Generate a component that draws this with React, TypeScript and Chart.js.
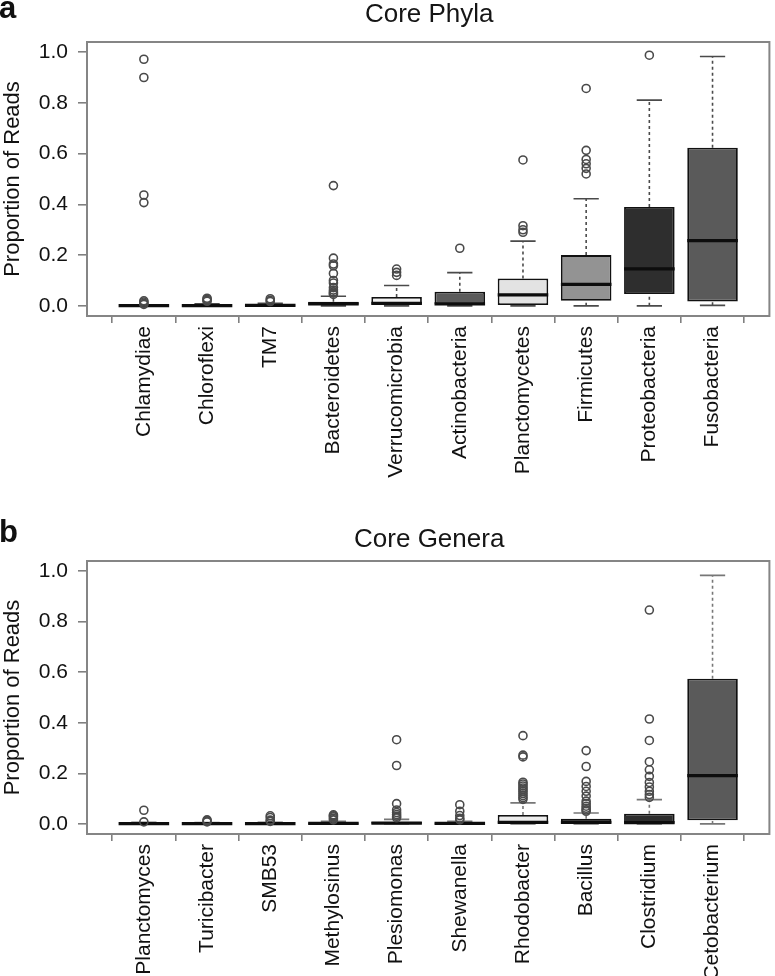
import React, { useEffect, useRef } from "react";
import { Chart, registerables } from "chart.js";

Chart.register(...registerables);
Chart.defaults.font.family = "'Liberation Sans', Arial, Helvetica, sans-serif";

// ---------- Panel a: Core Phyla ----------
const phylaCategories = ["Chlamydiae", "Chloroflexi", "TM7", "Bacteroidetes", "Verrucomicrobia", "Actinobacteria", "Planctomycetes", "Firmicutes", "Proteobacteria", "Fusobacteria"];
const phylaLower = [0, 0, 0, 0, 0, 0, 0, 0, 0, 0.002];
const phylaQ1 = [0, 0, 0.001, 0.004, 0.004, 0.006, 0.003, 0.02, 0.047, 0.017];
const phylaMedian = [0.001, 0.001, 0.002, 0.008, 0.01, 0.008, 0.043, 0.085, 0.146, 0.257];
const phylaQ3 = [0.002, 0.003, 0.004, 0.016, 0.035, 0.056, 0.108, 0.2, 0.39, 0.623];
const phylaUpper = [0.004, 0.008, 0.01, 0.038, 0.08, 0.131, 0.255, 0.422, 0.811, 0.983];
const phylaOutliers = [
  [0.972, 0.9, 0.437, 0.407, 0.02, 0.015, 0.01, 0.006],
  [0.03, 0.026, 0.022, 0.018],
  [0.028, 0.022, 0.017],
  [0.474, 0.188, 0.165, 0.158, 0.128, 0.1, 0.09, 0.072, 0.062, 0.055, 0.05, 0.045],
  [0.145, 0.132, 0.12],
  [0.227],
  [0.575, 0.316, 0.3, 0.29],
  [0.857, 0.613, 0.577, 0.56, 0.542, 0.52],
  [0.988],
  [],
];
const phylaFills = ["#2b2b2b", "#2b2b2b", "#2b2b2b", "#2b2b2b", "#f2f2f2", "#5b5b5b", "#e3e3e3", "#939393", "#2e2e2e", "#5a5a5a"];

// ---------- Panel b: Core Genera ----------
const generaCategories = ["Planctomyces", "Turicibacter", "SMB53", "Methylosinus", "Plesiomonas", "Shewanella", "Rhodobacter", "Bacillus", "Clostridium", "Cetobacterium"];
const generaLower = [0, 0, 0, 0, 0, 0, 0, 0, 0, 0];
const generaQ1 = [0, 0, 0, 0.001, 0.001, 0.001, 0.002, 0.002, 0.001, 0.014];
const generaMedian = [0.001, 0.001, 0.001, 0.002, 0.003, 0.002, 0.006, 0.006, 0.005, 0.191];
const generaQ3 = [0.003, 0.003, 0.003, 0.004, 0.007, 0.004, 0.035, 0.02, 0.04, 0.574];
const generaUpper = [0.006, 0.005, 0.006, 0.01, 0.018, 0.01, 0.083, 0.043, 0.096, 0.983];
const generaOutliers = [
  [0.054, 0.008],
  [0.016, 0.012, 0.008],
  [0.032, 0.025, 0.015, 0.01],
  [0.036, 0.032, 0.028, 0.022, 0.016],
  [0.333, 0.231, 0.08, 0.055, 0.045, 0.037, 0.03, 0.024],
  [0.076, 0.05, 0.033, 0.022, 0.016],
  [0.349, 0.272, 0.265, 0.165, 0.158, 0.15, 0.142, 0.135, 0.128, 0.12, 0.112, 0.104, 0.097],
  [0.29, 0.227, 0.168, 0.148, 0.129, 0.11, 0.09, 0.08, 0.07, 0.062, 0.055, 0.05],
  [0.846, 0.415, 0.33, 0.246, 0.214, 0.188, 0.164, 0.146, 0.129, 0.116, 0.105],
  [],
];
const generaFills = ["#2b2b2b", "#2b2b2b", "#2b2b2b", "#2b2b2b", "#2b2b2b", "#2b2b2b", "#ececec", "#555555", "#2e2e2e", "#5a5a5a"];

const yTickValues = [0, 0.2, 0.4, 0.6, 0.8, 1.0];
const yAxisTitle = "Proportion of Reads";

type PanelSpec = {
  letter: string;
  title: string;
  categories: string[];
  lower: number[];
  q1: number[];
  median: number[];
  q3: number[];
  upper: number[];
  outliers: number[][];
  fills: string[];
  top: number;
  height: number;
  padTop: number;
  xAxisHeight: number;
  letterBaseline: number;
  titleBaseline: number;
  whiskerColor: string;
};

function BoxPanel({ spec }: { spec: PanelSpec }) {
  const ref = useRef<HTMLCanvasElement>(null);
  useEffect(() => {
    if (!ref.current) return;
    const { categories, lower, q1, median, q3, upper, outliers, fills } = spec;
    const BOX_HALF = 0.4;
    const CAP_HALF = 0.2;
    const gap = (x: number) => ({ x, y: null as any });

    const boxes = categories.map((_, i) => ({ x: i + 1, y: [q1[i], q3[i]] }));
    const medians = categories.flatMap((_, i) => [
      { x: i + 1 - BOX_HALF, y: median[i] },
      { x: i + 1 + BOX_HALF, y: median[i] },
      gap(i + 1),
    ]);
    const whiskers = categories.flatMap((_, i) => [
      { x: i + 1, y: q3[i] },
      { x: i + 1, y: upper[i] },
      gap(i + 1),
      { x: i + 1, y: lower[i] },
      { x: i + 1, y: q1[i] },
      gap(i + 1),
    ]);
    const caps = categories.flatMap((_, i) => [
      { x: i + 1 - CAP_HALF, y: upper[i] },
      { x: i + 1 + CAP_HALF, y: upper[i] },
      gap(i + 1),
      { x: i + 1 - CAP_HALF, y: lower[i] },
      { x: i + 1 + CAP_HALF, y: lower[i] },
      gap(i + 1),
    ]);
    const outlierPts = outliers.flatMap((vals, i) => vals.map((v) => ({ x: i + 1, y: v })));

    const framePlugin = {
      id: "frameAndText",
      afterDatasetsDraw(chart: any) {
        const { ctx, chartArea } = chart;
        ctx.save();
        ctx.strokeStyle = "#858585";
        ctx.lineWidth = 2;
        ctx.strokeRect(chartArea.left, chartArea.top, chartArea.right - chartArea.left, chartArea.bottom - chartArea.top);
        ctx.restore();
      },
      afterDraw(chart: any) {
        const { ctx, chartArea } = chart;
        ctx.save();
        ctx.fillStyle = "#111";
        ctx.textBaseline = "alphabetic";
        ctx.textAlign = "left";
        ctx.font = "bold 31px 'Liberation Sans', Arial, sans-serif";
        ctx.fillText(spec.letter, -1, spec.letterBaseline);
        ctx.fillStyle = "#151515";
        ctx.textAlign = "center";
        ctx.font = "26px 'Liberation Sans', Arial, sans-serif";
        ctx.fillText(spec.title, (chartArea.left + chartArea.right) / 2 + 1, spec.titleBaseline);
        ctx.restore();
      },
    };

    const chart = new Chart(ref.current, {
      type: "bar",
      data: {
        datasets: [
          {
            type: "scatter",
            data: outlierPts,
            pointStyle: "circle",
            pointRadius: 4,
            pointBorderWidth: 1.6,
            pointBorderColor: "#4a4a4a",
            pointBackgroundColor: "rgba(0,0,0,0)",
            showLine: false,
          } as any,
          {
            type: "line",
            data: medians,
            borderColor: "#0d0d0d",
            borderWidth: 3.2,
            pointRadius: 0,
            spanGaps: false,
          } as any,
          {
            type: "line",
            data: caps,
            borderColor: spec.whiskerColor,
            borderWidth: 1.6,
            pointRadius: 0,
            spanGaps: false,
          } as any,
          {
            type: "line",
            data: whiskers,
            borderColor: spec.whiskerColor,
            borderWidth: 1.6,
            borderDash: [3, 3],
            pointRadius: 0,
            spanGaps: false,
          } as any,
          {
            type: "bar",
            data: boxes,
            backgroundColor: fills,
            borderColor: "#111111",
            borderWidth: 1.8,
            borderSkipped: false,
            barPercentage: 1,
            categoryPercentage: 0.8,
          } as any,
        ],
      },
      options: {
        responsive: false,
        animation: false,
        events: [],
        layout: { padding: { top: spec.padTop, right: 2, left: 0, bottom: 0 } },
        plugins: {
          legend: { display: false },
          tooltip: { enabled: false },
          title: { display: false },
        },
        scales: {
          x: {
            type: "linear",
            min: 0.1,
            max: 10.9,
            bounds: "data",
            offset: false,
            afterBuildTicks: (s: any) => {
              s.ticks = categories.map((_, i) => ({ value: i + 1 }));
            },
            afterFit: (s: any) => {
              s.height = spec.xAxisHeight;
            },
            ticks: {
              autoSkip: false,
              minRotation: 90,
              maxRotation: 90,
              padding: 3,
              color: "#111",
              font: { size: 21 },
              callback: (v: any) => categories[Math.round(Number(v)) - 1] ?? "",
            },
            grid: { drawOnChartArea: false, drawTicks: true, tickLength: 7, color: "#808080", lineWidth: 1.6 },
            border: { display: false },
          },
          y: {
            type: "linear",
            min: -0.04,
            max: 1.04,
            bounds: "data",
            afterBuildTicks: (s: any) => {
              s.ticks = yTickValues.map((v) => ({ value: v }));
            },
            afterFit: (s: any) => {
              s.width = 87;
            },
            ticks: {
              padding: 10,
              color: "#111",
              font: { size: 21 },
              callback: (v: any) => Number(v).toFixed(1),
            },
            grid: { drawOnChartArea: false, drawTicks: true, tickLength: 9, color: "#808080", lineWidth: 1.6 },
            border: { display: false },
            title: {
              display: true,
              text: yAxisTitle,
              color: "#111",
              font: { size: 22 },
              padding: { top: 0, bottom: 0 },
            },
          },
        },
      } as any,
      plugins: [framePlugin],
    });
    return () => chart.destroy();
  }, [spec]);

  return (
    <div style={{ position: "absolute", left: 0, top: spec.top, width: 775, height: spec.height }}>
      <canvas ref={ref} width={775} height={spec.height} style={{ display: "block" }} />
    </div>
  );
}

const panelA: PanelSpec = {
  letter: "a",
  title: "Core Phyla",
  categories: phylaCategories,
  lower: phylaLower,
  q1: phylaQ1,
  median: phylaMedian,
  q3: phylaQ3,
  upper: phylaUpper,
  outliers: phylaOutliers,
  fills: phylaFills,
  top: 0,
  height: 500,
  padTop: 42,
  xAxisHeight: 184,
  letterBaseline: 18,
  titleBaseline: 22,
  whiskerColor: "#4a4a4a",
};

const panelB: PanelSpec = {
  letter: "b",
  title: "Core Genera",
  categories: generaCategories,
  lower: generaLower,
  q1: generaQ1,
  median: generaMedian,
  q3: generaQ3,
  upper: generaUpper,
  outliers: generaOutliers,
  fills: generaFills,
  top: 500,
  height: 476,
  padTop: 61,
  xAxisHeight: 142,
  letterBaseline: 42,
  titleBaseline: 47,
  whiskerColor: "#777777",
};

export default function App() {
  return (
    <div style={{ position: "absolute", left: 0, top: 0, width: 775, height: 976, overflow: "hidden", background: "#fff" }}>
      <BoxPanel spec={panelA} />
      <BoxPanel spec={panelB} />
    </div>
  );
}
